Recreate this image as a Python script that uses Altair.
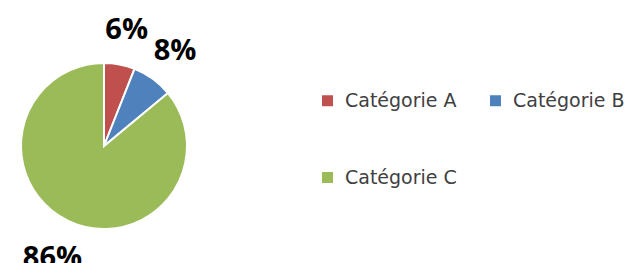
import altair as alt
import pandas as pd

categories = ["Catégorie A", "Catégorie B", "Catégorie C"]
values = [6, 8, 86]
labels = ["6%", "8%", "86%"]
colors = ["#C0504D", "#4F81BD", "#9BBB59"]

df = pd.DataFrame({"category": categories, "value": values, "label": labels})

cx, cy = 96, 138

base = alt.Chart(df).encode(
    theta=alt.Theta("value:Q", stack=True),
    order=alt.Order("category:N"),
)

arc = base.mark_arc(outerRadius=83, stroke="white", strokeWidth=2).encode(
    x=alt.value(cx),
    y=alt.value(cy),
    color=alt.Color(
        "category:N",
        scale=alt.Scale(domain=categories, range=colors),
        legend=alt.Legend(
            title=None,
            orient="none",
            direction="horizontal",
            legendX=310,
            legendY=83,
            columns=2,
            symbolType="square",
            symbolSize=121,
            symbolStrokeWidth=0,
            labelFont="DejaVu Sans",
            labelFontSize=19,
            labelColor="#404040",
            labelOffset=8,
            labelLimit=200,
            rowPadding=57,
            columnPadding=29,
            padding=0,
        ),
    ),
)

text = base.mark_text(
    radius=121, dy=3, fontSize=29, fontWeight="bold", font="Open Sans", color="black"
).encode(
    x=alt.value(cx),
    y=alt.value(cy),
    text="label:N",
)

chart = (
    alt.layer(arc, text)
    .properties(width=621, height=255, autosize="none", padding=0)
    .configure_view(stroke=None)
)

chart.save("out.html", embed_options={"renderer": "svg", "actions": False})
